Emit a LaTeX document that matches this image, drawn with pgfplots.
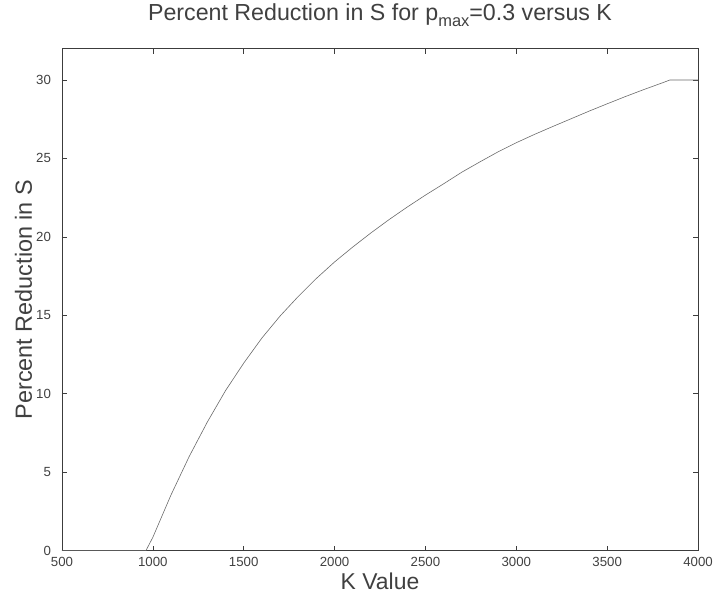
\documentclass[border=0pt]{standalone}
\usepackage{fontspec}
\setmainfont{Liberation Sans}
\usepackage{pgfplots}
\pgfplotsset{compat=1.18}
\definecolor{axgray}{HTML}{3C3C3C}
\definecolor{txtgray}{HTML}{404040}
\definecolor{curvegray}{HTML}{6A6A6A}
\pgfplotstableread{
K S
500 0
962 0
1000 0.85
1100 3.55
1200 6.0
1300 8.2
1400 10.2
1500 11.95
1600 13.55
1700 14.95
1800 16.2
1900 17.35
2000 18.4
2100 19.35
2200 20.25
2300 21.1
2400 21.9
2500 22.66
2600 23.38
2700 24.12
2800 24.78
2900 25.42
3000 26.0
3100 26.53
3200 27.03
3300 27.52
3400 28.01
3500 28.48
3600 28.94
3700 29.38
3800 29.8
3846 30
4000 30
}\datatable
\begin{document}
\begin{tikzpicture}[x=1bp,y=1bp]
\useasboundingbox (-62,-45) rectangle (653,550.6);
\begin{axis}[
  at={(0,0)}, anchor=south west,
  scale only axis, width=636bp, height=502bp,
  xmin=500, xmax=4000, ymin=0, ymax=32,
  xtick={500,1000,...,4000}, ytick={0,5,...,30},
  tick align=inside, major tick length=5bp,
  axis line style={axgray, line width=0.8bp},
  every tick/.style={axgray, line width=0.6bp},
  tick label style={font=\fontsize{13.3}{13.3}\selectfont, text=txtgray},
  /pgf/number format/assume math mode=true,
  /pgf/number format/1000 sep={},
  scaled ticks=false,
  xticklabel style={anchor=north, yshift=-3bp},
  yticklabel style={anchor=east, xshift=-7.5bp},
  title={Percent Reduction in S for p\raisebox{-0.45ex}{\fontsize{16.5}{16.5}\selectfont max}=0.3 versus K},
  title style={at={(axis description cs:0.5,1.0438)}, anchor=base, font=\fontsize{23.3}{23.3}\selectfont, text=txtgray},
  xlabel={K Value},
  xlabel style={at={(axis description cs:0.5,-0.0777)}, anchor=base, font=\fontsize{23}{23}\selectfont, text=txtgray},
  ylabel={Percent Reduction in S},
  ylabel style={at={(axis description cs:-0.0472,0.5)}, rotate=0, anchor=base, font=\fontsize{23.5}{23.5}\selectfont, text=txtgray},
]
\addplot[curvegray, line width=0.6bp] table[x=K, y=S] {\datatable};
\end{axis}
\end{tikzpicture}
\end{document}
